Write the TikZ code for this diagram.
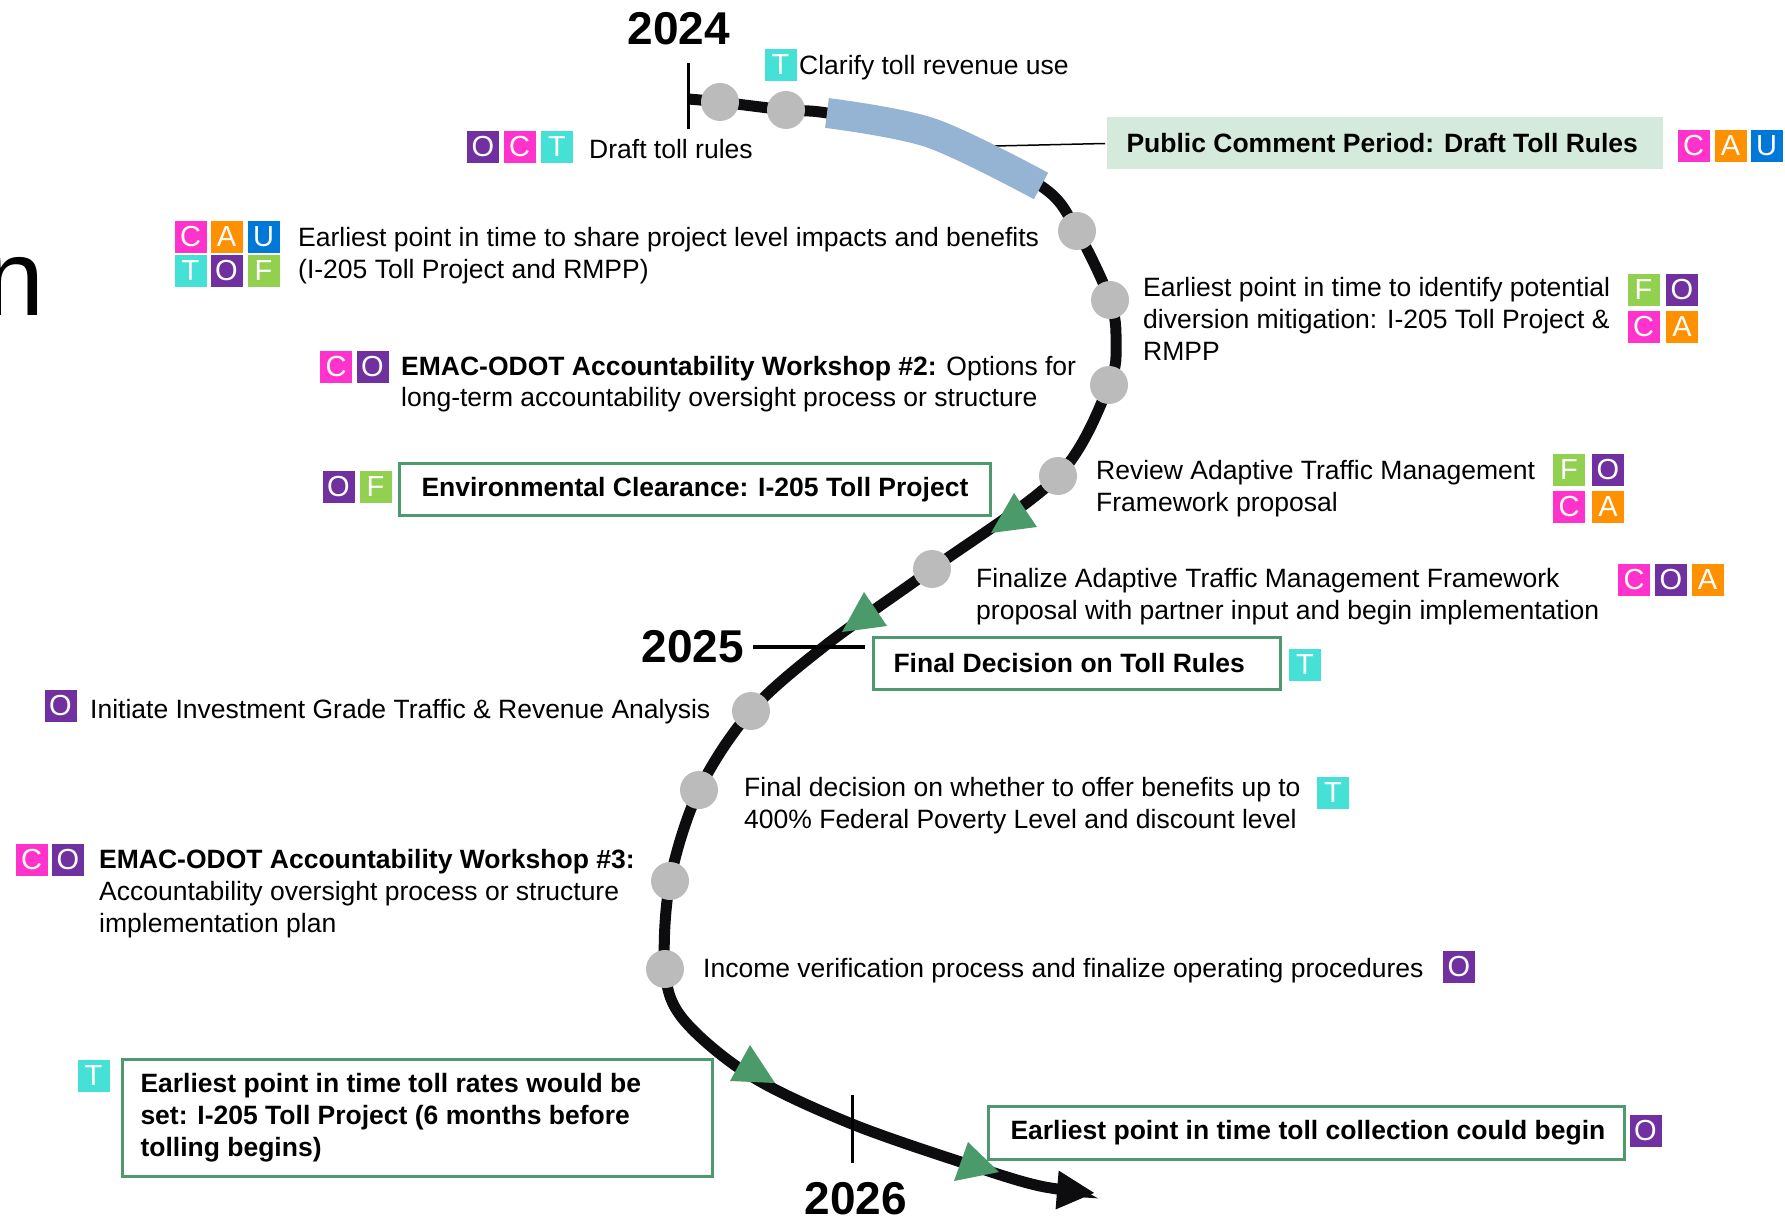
\documentclass[tikz,border=0pt]{standalone}
\usepackage{fontspec}
\setmainfont{Liberation Sans}
\usetikzlibrary{arrows.meta}
\definecolor{cC}{HTML}{FF33CC}
\definecolor{cA}{HTML}{FF9000}
\definecolor{cU}{HTML}{0078D7}
\definecolor{cT}{HTML}{45E0D6}
\definecolor{cO}{HTML}{7030A0}
\definecolor{cF}{HTML}{92D050}
\definecolor{boxgreen}{HTML}{4E9A6E}
\definecolor{trigreen}{HTML}{4B9A6A}
\definecolor{pubfill}{HTML}{D3EADD}
\definecolor{bandblue}{HTML}{95B3D2}
\definecolor{dotgray}{HTML}{BBBBBB}
\definecolor{curveblack}{HTML}{0D0D10}
\newcommand\mylines[1]{\begin{tabular}[t]{@{}l@{}}#1\end{tabular}}
\begin{document}
\begin{tikzpicture}[x=1pt,y=-1pt,
  body/.style={font=\fontsize{26.5}{32}\selectfont, inner sep=0, anchor=base west},
  badge/.style={minimum width=32, minimum height=32, inner sep=0, text=white, font=\fontsize{29}{32}\selectfont},
  dot/.style={circle, fill=dotgray, minimum size=38, inner sep=0},
  gbox/.style={draw=boxgreen, line width=3, fill=white, inner ysep=0, anchor=north west, font=\bfseries\fontsize{26.5}{32}\selectfont},
  year/.style={font=\bfseries\fontsize{46}{50}\selectfont, inner sep=0},
  curve/.style={line width=11, draw=curveblack},
  tri/.style={fill=trigreen},
  tick/.style={line width=3, draw=black}]
\useasboundingbox (0,0) rectangle (1785,1222);
\fill[white] (0,0) rectangle (1785,1222);

% partial large letter at the left edge
\node[font=\fontsize{108}{120}\selectfont, inner sep=0, anchor=base west] (bign) at (-16,316) {n};

% path coordinates
\coordinate (s0) at (688,99);
\coordinate (c1) at (720,102);
\coordinate (c2) at (786,110);
\coordinate (k1) at (827,113);
\coordinate (k2) at (931,133);
\coordinate (k3) at (1041,186);
\coordinate (c3) at (1077,231);
\coordinate (c4) at (1110,300);
\coordinate (k4) at (1116,342);
\coordinate (c5) at (1109,385);
\coordinate (c6) at (1058,476);
\coordinate (c7) at (932,569);
\coordinate (k5) at (826,645);
\coordinate (c8) at (751,711);
\coordinate (c9) at (699,790);
\coordinate (c10) at (670,881);
\coordinate (c11) at (665,969);
\coordinate (k6) at (683,1019);
\coordinate (k7) at (751,1076);
\coordinate (k8) at (852,1124);
\coordinate (k9) at (973,1166);
\coordinate (k10) at (1040,1186);
\coordinate (tip) at (1095,1193);

\draw[curve, -{Triangle[length=38pt,width=36pt]}] plot[smooth, tension=0.55] coordinates {(s0) (c1) (c2) (k1) (k2) (k3) (c3) (c4) (k4) (c5) (c6) (c7) (k5) (c8) (c9) (c10) (c11) (k6) (k7) (k8) (k9) (k10) (tip)};

% public comment box and band
\node[gbox, draw=none, fill=pubfill, inner xsep=20, minimum height=52] (pub) at (1105,116) {\makebox[516pt][l]{Public Comment Period: Draft Toll Rules}};
\coordinate (bandpt) at (995,146);
\draw[line width=1.5] (bandpt) -- (pub.west);
\draw[line width=30, draw=bandblue] plot[smooth, tension=0.55] coordinates {(k1) (k2) (k3)};

% dots
\foreach \p in {c1,c2,c3,c4,c5,c6,c7,c8,c9,c10,c11}{\node[dot] (d\p) at (\p) {};}

% green triangles
\fill[tri] (1014,493) -- (1037,527) -- (991,533) -- cycle;
\fill[tri] (864,592) -- (887,626) -- (842,632) -- cycle;
\fill[tri] (750,1045) -- (775,1083) -- (730,1081) -- cycle;
\fill[tri] (968,1142) -- (999,1172) -- (954,1181) -- cycle;

% ticks and years
\coordinate (t24a) at (688,63); \coordinate (t24b) at (688,129);
\draw[tick] (t24a) -- (t24b);
\node[year] (y24) at (679,29) {2024};
\node[year, anchor=east] (y25) at (744,647) {2025};
\coordinate (l25) at (865,647);
\draw[line width=4] ([xshift=9pt]y25.east) -- (l25);
\coordinate (t26a) at (852,1095); \coordinate (t26b) at (852,1163);
\draw[tick] (t26a) -- (t26b);
\node[year] (y26) at (856,1199) {2026};

% boxes
\node[gbox, inner xsep=22, minimum height=52] (env) at (398,462) {\makebox[547pt][l]{Environmental Clearance: I-205 Toll Project}};
\node[gbox, inner xsep=20, minimum height=52] (fdec) at (872,636) {\makebox[367pt][l]{Final Decision on Toll Rules}};
\node[gbox, inner xsep=18, minimum height=117] (rates) at (121,1058) {\makebox[554pt][l]{\mylines{Earliest point in time toll rates would be\\set: I-205 Toll Project (6 months before\\tolling begins)}}};
\node[gbox, inner xsep=22, minimum height=53] (coll) at (987,1105) {\makebox[592pt][l]{Earliest point in time toll collection could begin}};

% texts
\node[body] (tclar) at (799,75) {Clarify toll revenue use};
\node[body] (tdraft) at (589,159) {Draft toll rules};
\node[body] (tshare) at (298,246.5) {\mylines{Earliest point in time to share project level impacts and benefits\\(I-205 Toll Project and RMPP)}};
\node[body] (tws2) at (401,375) {\mylines{\textbf{EMAC-ODOT Accountability Workshop \#2:} Options for\\long-term accountability oversight process or structure}};
\node[body] (tdiv) at (1143,297) {\mylines{Earliest point in time to identify potential\\diversion mitigation: I-205 Toll Project \&\\RMPP}};
\node[body] (trev) at (1096,479) {\mylines{Review Adaptive Traffic Management\\Framework proposal}};
\node[body] (tfin) at (976,587) {\mylines{Finalize Adaptive Traffic Management Framework\\proposal with partner input and begin implementation}};
\node[body] (tinit) at (90,718) {Initiate Investment Grade Traffic \& Revenue Analysis};
\node[body] (tben) at (744,796) {\mylines{Final decision on whether to offer benefits up to\\400\% Federal Poverty Level and discount level}};
\node[body] (tws3) at (99,868) {\mylines{\textbf{EMAC-ODOT Accountability Workshop \#3:}\\Accountability oversight process or structure\\implementation plan}};
\node[body] (tinc) at (703,977) {Income verification process and finalize operating procedures};

% badges
\node[badge, fill=cT] (bt1) at (780.5,65) {T};
\node[badge, fill=cO] (bo1) at (483,147) {O};
\node[badge, fill=cC] (bc1) at (519.5,147) {C};
\node[badge, fill=cT] (bt2) at (557,147) {T};
\node[badge, fill=cC] (bc2) at (1693.5,146) {C};
\node[badge, fill=cA] (ba2) at (1730.5,146) {A};
\node[badge, fill=cU] (bu2) at (1766.5,146) {U};
\node[badge, fill=cC] (bc3) at (190.5,237) {C};
\node[badge, fill=cA] (ba3) at (226.5,237) {A};
\node[badge, fill=cU] (bu3) at (263.5,237) {U};
\node[badge, fill=cT] (bt3) at (190.5,271) {T};
\node[badge, fill=cO] (bo3) at (226.5,271) {O};
\node[badge, fill=cF] (bf3) at (263.5,271) {F};
\node[badge, fill=cC] (bc4) at (336,367) {C};
\node[badge, fill=cO] (bo4) at (372.5,367) {O};
\node[badge, fill=cO] (bo5) at (338.5,487) {O};
\node[badge, fill=cF] (bf5) at (375.5,487) {F};
\node[badge, fill=cF] (bf6) at (1643.5,290) {F};
\node[badge, fill=cO] (bo6) at (1682,290) {O};
\node[badge, fill=cC] (bc6) at (1643.5,327) {C};
\node[badge, fill=cA] (ba6) at (1682,327) {A};
\node[badge, fill=cF] (bf7) at (1569,470) {F};
\node[badge, fill=cO] (bo7) at (1608,470) {O};
\node[badge, fill=cC] (bc7) at (1569,507) {C};
\node[badge, fill=cA] (ba7) at (1608,507) {A};
\node[badge, fill=cC] (bc8) at (1634,580) {C};
\node[badge, fill=cO] (bo8) at (1671,580) {O};
\node[badge, fill=cA] (ba8) at (1707.5,580) {A};
\node[badge, fill=cT] (bt9) at (1305,665) {T};
\node[badge, fill=cO] (bo10) at (60.5,706) {O};
\node[badge, fill=cT] (bt11) at (1333,792.5) {T};
\node[badge, fill=cC] (bc12) at (31.5,859.5) {C};
\node[badge, fill=cO] (bo12) at (68,859.5) {O};
\node[badge, fill=cO] (bo13) at (1459,967) {O};
\node[badge, fill=cT] (bt14) at (93.5,1076) {T};
\node[badge, fill=cO] (bo15) at (1645.5,1131) {O};
\end{tikzpicture}
\end{document}
